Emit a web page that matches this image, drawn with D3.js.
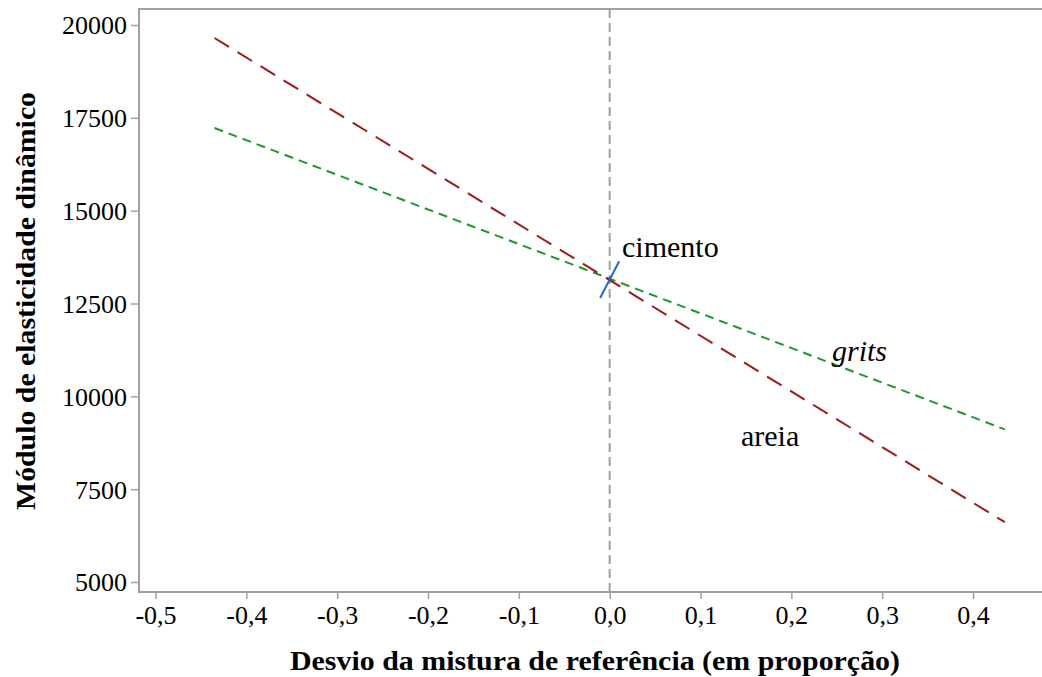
<!DOCTYPE html>
<html>
<head>
<meta charset="utf-8">
<script src="https://cdn.jsdelivr.net/npm/d3@7"></script>
<style>
  body { margin: 0; background: #fff; }
  svg text { font-family: "Liberation Serif", "DejaVu Serif", "Times New Roman", Times, serif; }
</style>
</head>
<body>
<svg id="chart" width="1042" height="677"></svg>
<script>
// data
const xTicks = [-0.5, -0.4, -0.3, -0.2, -0.1, 0.0, 0.1, 0.2, 0.3, 0.4];
const yTicks = [5000, 7500, 10000, 12500, 15000, 17500, 20000];
const areiaX = [-0.435, 0.435];
const areiaY = [19650, 6610];
const gritsX = [-0.435, 0.435];
const gritsY = [17225, 9110];
const cimentoX = [-0.0105, 0.0105];
const cimentoY = [12650, 13640];

const serif = '"Liberation Serif", "DejaVu Serif", "Times New Roman", Times, serif';
const svg = d3.select("#chart").attr("font-family", serif);

const plotLeft = 139, plotTop = 9, plotBottom = 592, plotRight = 1042;

const x = d3.scaleLinear().domain([-0.5, 0.4]).range([155.5, 973]);
const y = d3.scaleLinear().domain([5000, 20000]).range([582, 25]);

const pt = d3.formatLocale({decimal: ",", thousands: ".", grouping: [3], currency: ["", ""]});
const fmt = pt.format(".1f");

// frame (left, top, bottom)
svg.append("path")
    .attr("d", `M${plotRight},${plotTop}H${plotLeft}V${plotBottom}H${plotRight}`)
    .attr("fill", "none")
    .attr("stroke", "#a0a0a0")
    .attr("stroke-width", 2);

const yAxis = svg.append("g")
    .attr("transform", `translate(${plotLeft - 1},0)`)
    .call(d3.axisLeft(y).tickValues(yTicks).tickSize(7).tickPadding(4).tickFormat(d3.format("d")))
    .attr("font-family", serif);
yAxis.select(".domain").remove();
yAxis.selectAll("line").attr("stroke", "#a0a0a0").attr("stroke-width", 1.5);
yAxis.selectAll("text").attr("font-size", 26).attr("fill", "#000").attr("dy", "0.34em");

const xAxis = svg.append("g")
    .attr("transform", `translate(0,${plotBottom + 1})`)
    .call(d3.axisBottom(x).tickValues(xTicks).tickSize(6).tickPadding(7).tickFormat(d => fmt(d).replace("−", "-")))
    .attr("font-family", serif);
xAxis.select(".domain").remove();
xAxis.selectAll("line").attr("stroke", "#a0a0a0").attr("stroke-width", 1.5);
xAxis.selectAll("text").attr("font-size", 26).attr("fill", "#000");

// reference line at 0
svg.append("line")
    .attr("x1", x(0)).attr("x2", x(0))
    .attr("y1", plotTop).attr("y2", plotBottom)
    .attr("stroke", "#a0a0a0")
    .attr("stroke-width", 2)
    .attr("stroke-dasharray", "9,5");

const line = d3.line().x(d => x(d[0])).y(d => y(d[1]));

svg.append("path")
    .attr("d", line(gritsX.map((v, i) => [v, gritsY[i]])))
    .attr("fill", "none")
    .attr("stroke", "#1e9632")
    .attr("stroke-width", 2)
    .attr("stroke-dasharray", "9,6");

svg.append("path")
    .attr("d", line(areiaX.map((v, i) => [v, areiaY[i]])))
    .attr("fill", "none")
    .attr("stroke", "#9b1a1a")
    .attr("stroke-width", 2)
    .attr("stroke-dasharray", "17,10");

svg.append("path")
    .attr("d", line(cimentoX.map((v, i) => [v, cimentoY[i]])))
    .attr("fill", "none")
    .attr("stroke", "#1f6cc4")
    .attr("stroke-width", 2);

// series labels
svg.append("text").attr("x", 622).attr("y", 257).attr("font-size", 30).text("cimento");
svg.append("text").attr("x", 832).attr("y", 361).attr("font-size", 30).attr("font-style", "italic").text("grits");
svg.append("text").attr("x", 741).attr("y", 446).attr("font-size", 30).text("areia");

// axis titles
svg.append("text")
    .attr("x", 595).attr("y", 670)
    .attr("text-anchor", "middle")
    .attr("font-size", 28).attr("font-weight", "bold")
    .attr("textLength", 610).attr("lengthAdjust", "spacingAndGlyphs")
    .text("Desvio da mistura de referência (em proporção)");

svg.append("text")
    .attr("transform", "translate(35,301) rotate(-90)")
    .attr("text-anchor", "middle")
    .attr("font-size", 28).attr("font-weight", "bold")
    .attr("textLength", 418).attr("lengthAdjust", "spacingAndGlyphs")
    .text("Módulo de elasticidade dinâmico");
</script>
</body>
</html>
